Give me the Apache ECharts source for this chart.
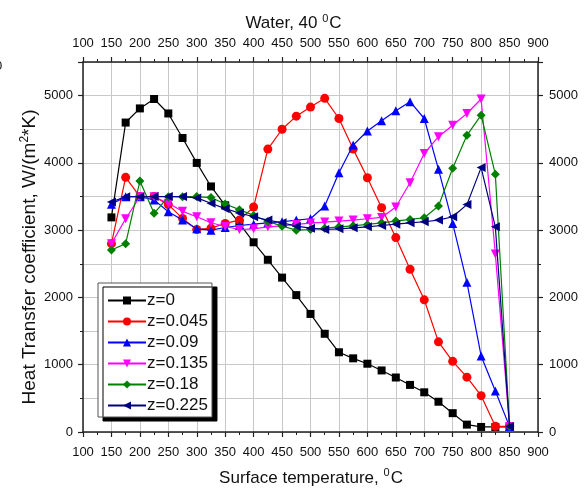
<!DOCTYPE html>
<html><head><meta charset="utf-8">
<script src="https://cdn.jsdelivr.net/npm/echarts@6/dist/echarts.min.js"></script>
<style>html,body{margin:0;padding:0;background:#fff}#c{width:587px;height:488px}</style>
</head><body><div id="c"></div>
<script>
const temps = [150,175,200,225,250,275,300,325,350,375,400,425,450,475,500,525,550,575,600,625,650,675,700,725,750,775,800,825,850];
const z0    = [3190,4600,4810,4950,4735,4370,4000,3650,3370,3100,2820,2560,2295,2035,1755,1460,1185,1095,1015,915,810,700,590,450,280,110,75,75,75];
const z045  = [2800,3785,3500,3500,3380,3175,3010,3030,3100,3150,3345,4205,4500,4695,4830,4960,4660,4205,3780,3335,2890,2420,1965,1340,1050,815,540,85,85];
const z09   = [3385,3497,3497,3450,3275,3150,3020,3000,3040,3070,3090,3110,3125,3150,3170,3360,3855,4265,4475,4625,4775,4910,4660,3905,3100,2225,1130,610,80];
const z135  = [2800,3170,3497,3497,3400,3280,3200,3110,3055,3010,3020,3050,3065,3085,3105,3120,3135,3150,3170,3190,3345,3705,4140,4390,4560,4735,4950,2645,80];
const z18   = [2705,2800,3730,3250,3497,3497,3500,3485,3390,3305,3220,3130,3060,3000,3010,3030,3050,3065,3085,3110,3135,3160,3185,3360,3920,4410,4710,3830,80];
const z225  = [3420,3497,3497,3500,3500,3500,3480,3400,3320,3255,3200,3150,3110,3060,3030,3010,3020,3035,3050,3070,3090,3110,3125,3150,3200,3380,3930,3050,80];
const seriesNames = ['z=0','z=0.045','z=0.09','z=0.135','z=0.18','z=0.225'];
const xTicks = {min:100, max:900, step:50};
const yTicks = {min:0, max:5500, step:1000};

const FONT = 'Liberation Sans, Arial, sans-serif';
const chart = echarts.init(document.getElementById('c'), null, {renderer:'canvas'});
const all = [z0,z045,z09,z135,z18,z225];
const colors = ['#000000','#ff0000','#0000ff','#ff00ff','#008000','#000080'];
const symbols = ['rect','circle','triangle','triangle','diamond','triangle'];
const rots = [0,0,0,180,0,90];
const sizes = [8,9,9,9,9,9];

const axisLineStyle = {color:'#222', width:1.5};
const xCommon = {
  type:'value', min:xTicks.min, max:xTicks.max, interval:xTicks.step,
  axisLine:{show:true, onZero:false, lineStyle:axisLineStyle},
  axisTick:{show:true, length:5, lineStyle:{color:'#222', width:1.2}},
  minorTick:{show:true, splitNumber:2, length:3, lineStyle:{color:'#222', width:1}},
  axisLabel:{fontFamily:FONT, fontSize:13, color:'#111'}
};
const yCommon = {
  type:'value', min:yTicks.min, max:yTicks.max, interval:yTicks.step,
  axisLine:{show:true, onZero:false, lineStyle:axisLineStyle},
  axisTick:{show:true, length:5, lineStyle:{color:'#222', width:1.2}},
  minorTick:{show:true, splitNumber:2, length:3, lineStyle:{color:'#222', width:1}},
  axisLabel:{fontFamily:FONT, fontSize:13, color:'#111',
    formatter: v => (v % 1000 === 0 ? String(v) : '')}
};

chart.setOption({
  animation:false,
  backgroundColor:'#fff',
  grid:{left:83, right:49, top:62, bottom:56, containLabel:false},
  xAxis:[
    Object.assign({}, xCommon, {position:'bottom',
      axisLabel:Object.assign({}, xCommon.axisLabel, {margin:14}),
      splitLine:{show:true, lineStyle:{color:'#c8c8c8', width:1}}}),
    Object.assign({}, xCommon, {position:'top',
      axisLabel:Object.assign({}, xCommon.axisLabel, {margin:12}),
      splitLine:{show:false}})
  ],
  yAxis:[
    Object.assign({}, yCommon, {position:'left',
      axisLabel:Object.assign({}, yCommon.axisLabel, {margin:10}),
      splitLine:{show:true, lineStyle:{color:'#c8c8c8', width:1}},
      minorSplitLine:{show:true, lineStyle:{color:'#c8c8c8', width:1}}}),
    Object.assign({}, yCommon, {position:'right',
      axisLabel:Object.assign({}, yCommon.axisLabel, {margin:11}),
      splitLine:{show:false}})
  ],
  legend:{
    orient:'vertical', left:98, top:283,
    backgroundColor:'#fff', borderColor:'#555', borderWidth:1,
    shadowColor:'#000', shadowOffsetX:5, shadowOffsetY:4, shadowBlur:0,
    padding:[8,4,2,9], itemGap:2, itemWidth:38, itemHeight:10,
    textStyle:{fontFamily:FONT, fontSize:17, color:'#111', lineHeight:19, padding:[0,0,0,-4]},
    data:seriesNames
  },
  series: all.map((arr,i)=>({
    name:seriesNames[i], type:'line', xAxisIndex:0, yAxisIndex:0,
    data: temps.map((t,k)=>[t, arr[k]]),
    symbol:symbols[i], symbolSize:sizes[i], symbolRotate:rots[i],
    lineStyle:{color:colors[i], width:1.2},
    itemStyle:{color:colors[i], borderWidth:0},
    showSymbol:true, z:2+i
  })),
  graphic:[
    {type:'text', left:'center', top:13, style:{
      text:'{a|Water, 40 }{s|0}{a|C}', font:'17px '+FONT, fill:'#111',
      rich:{a:{fontFamily:FONT, fontSize:17, fill:'#111', verticalAlign:'bottom'}, s:{fontFamily:FONT, fontSize:11, fill:'#111', verticalAlign:'top', padding:[0,1,8,0]}}
    }},
    {type:'text', x:311, y:478, style:{
      text:'{a|Surface temperature, }{s|0}{a|C}', font:'17px '+FONT, fill:'#111',
      align:'center', verticalAlign:'middle',
      rich:{a:{fontFamily:FONT, fontSize:17, fill:'#111'}, s:{fontFamily:FONT, fontSize:11, fill:'#111', padding:[0,1,10,0]}}
    }},
    {type:'text', x:30, y:257, rotation:Math.PI/2, style:{
      text:'{a|Heat Transfer coefficient, W/(m}{s|2}{a|*K)}', font:'19px '+FONT, fill:'#111',
      align:'center', verticalAlign:'middle',
      rich:{a:{fontFamily:FONT, fontSize:19, fill:'#111'}, s:{fontFamily:FONT, fontSize:12, fill:'#111', padding:[0,0,11,0]}}
    }},
    {type:'text', x:-5, y:60, style:{text:'0', font:'13px '+FONT, fill:'#111'}}
  ]
});
</script></body></html>
